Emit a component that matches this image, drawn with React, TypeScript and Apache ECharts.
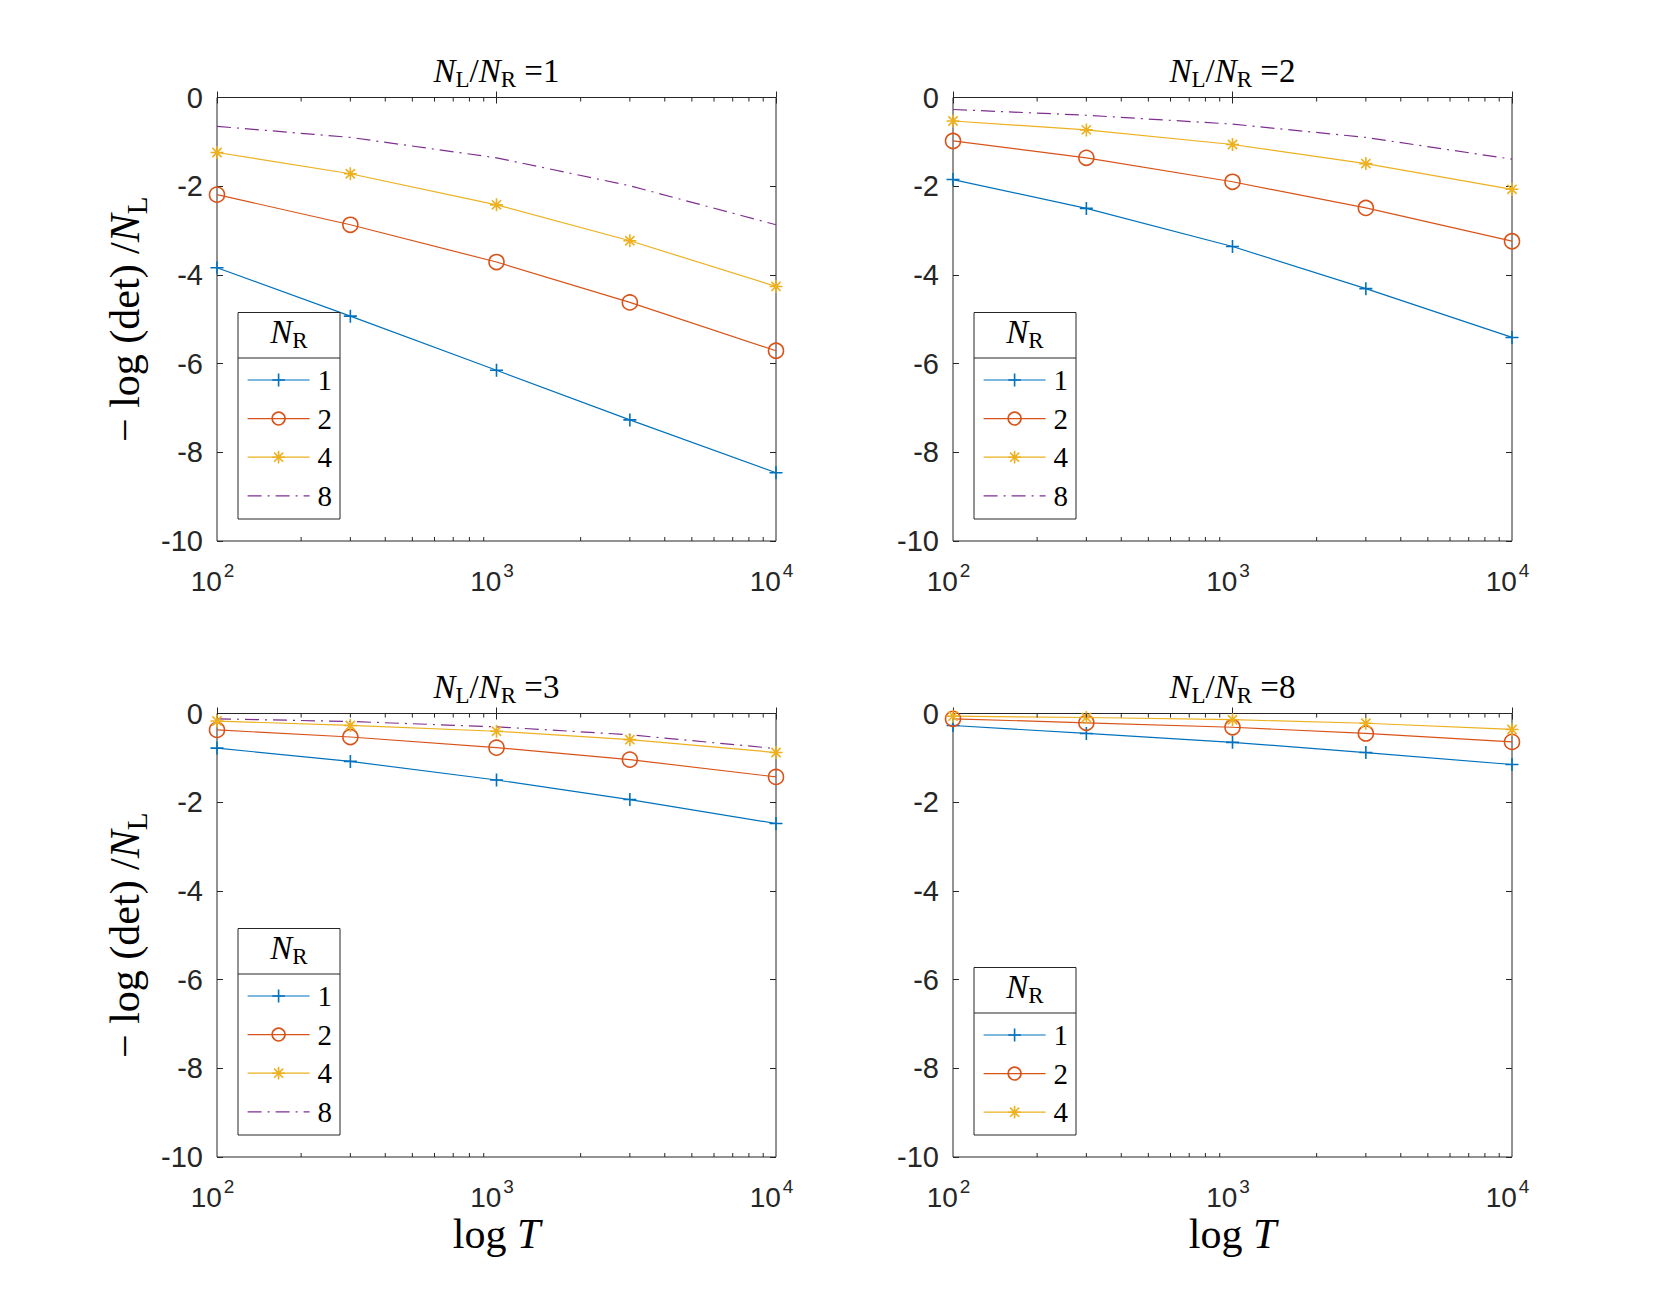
import React, { useEffect, useRef } from 'react';
import * as echarts from 'echarts';

// ---------------- data ----------------
const T_VALUES = [100, 300, 1000, 3000, 10000];
const NR_LABELS = ['1', '2', '4', '8'];
const RATIO_LABELS = ['1', '2', '3', '8'];
const MINOR_TICKS = [200, 300, 400, 500, 600, 700, 800, 900, 2000, 3000, 4000, 5000, 6000, 7000, 8000, 9000];
const Y_MIN = -10;
const Y_MAX = 0;
const Y_INTERVAL = 2;
const X_MIN = 100;
const X_MAX = 10000;

// N_L/N_R = 1
const P1_NR1 = [-3.84, -4.93, -6.15, -7.27, -8.46];
const P1_NR2 = [-2.19, -2.87, -3.71, -4.62, -5.71];
const P1_NR4 = [-1.24, -1.72, -2.42, -3.23, -4.26];
const P1_NR8 = [-0.65, -0.9, -1.36, -1.99, -2.87];
// N_L/N_R = 2
const P2_NR1 = [-1.85, -2.5, -3.36, -4.31, -5.41];
const P2_NR2 = [-0.98, -1.36, -1.9, -2.49, -3.24];
const P2_NR4 = [-0.53, -0.73, -1.06, -1.49, -2.07];
const P2_NR8 = [-0.27, -0.4, -0.6, -0.9, -1.39];
// N_L/N_R = 3
const P3_NR1 = [-0.78, -1.08, -1.5, -1.94, -2.48];
const P3_NR2 = [-0.37, -0.53, -0.77, -1.04, -1.43];
const P3_NR4 = [-0.17, -0.27, -0.4, -0.59, -0.88];
const P3_NR8 = [-0.12, -0.18, -0.3, -0.48, -0.79];
// N_L/N_R = 8
const P4_NR1 = [-0.27, -0.45, -0.65, -0.88, -1.15];
const P4_NR2 = [-0.12, -0.21, -0.31, -0.45, -0.64];
const P4_NR4 = [-0.06, -0.09, -0.14, -0.22, -0.36];

const PANEL_SERIES = [
  [P1_NR1, P1_NR2, P1_NR4, P1_NR8],
  [P2_NR1, P2_NR2, P2_NR4, P2_NR8],
  [P3_NR1, P3_NR2, P3_NR4, P3_NR8],
  [P4_NR1, P4_NR2, P4_NR4],
];

// ---------------- styles / layout ----------------
const W = 1671;
const H = 1300;
const GRID_POS = [
  { left: 217, top: 97.5 },
  { left: 953, top: 97.5 },
  { left: 217, top: 713.5 },
  { left: 953, top: 713.5 },
];
const GRID_W = 559;
const GRID_H = 443.5;

const COLORS = ['#0072BD', '#D95319', '#EDB120', '#7E2F8E'];
const PLUS = 'path://M5,0L5,10M0,5L10,5';
const STAR = 'path://M5,0L5,10M0,5L10,5M1.46,1.46L8.54,8.54M1.46,8.54L8.54,1.46';
const SYMBOLS = [PLUS, 'circle', STAR, 'none'];
const SYMBOL_SIZES = [13, 15, 13, 0];
const DASH_DOT = [14, 6, 2, 6];
const LINE_TYPES: any[] = ['solid', 'solid', 'solid', DASH_DOT];
const AXIS_COLOR = '#262626';
const SANS = 'Liberation Sans, Arial, Helvetica, sans-serif';
const SERIF = 'Liberation Serif, Times New Roman, serif';
const MAJOR_LEN = 6;
const MINOR_LEN = 4;

// legend boxes
const LEG_BOX = [
  { x: 238, y: 312.5, w: 102, h: 206.5, sep: 358, itemTop: 365.5 },
  { x: 974, y: 312.5, w: 102, h: 206.5, sep: 358, itemTop: 365.5 },
  { x: 238, y: 928.5, w: 102, h: 206.5, sep: 974, itemTop: 981.5 },
  { x: 974, y: 967.5, w: 102, h: 167.5, sep: 1013, itemTop: 1020.5 },
];

const TITLE_RICH = {
  i: { fontFamily: SERIF, fontStyle: 'italic', fontSize: 33, lineHeight: 38, color: '#000' },
  r: { fontFamily: SERIF, fontSize: 33, lineHeight: 38, color: '#000' },
  sub: { fontFamily: SERIF, fontSize: 23, lineHeight: 23, padding: [17, 0, 0, 0], color: '#000' },
};

const LABEL_RICH = {
  r: { fontFamily: SERIF, fontSize: 42, lineHeight: 48, color: '#000' },
  i: { fontFamily: SERIF, fontStyle: 'italic', fontSize: 42, lineHeight: 48, color: '#000' },
  sub: { fontFamily: SERIF, fontSize: 29, lineHeight: 29, padding: [23, 0, 0, 0], color: '#000' },
};

const XTICK_RICH = {
  base: { fontFamily: SANS, fontSize: 28, lineHeight: 32, color: AXIS_COLOR },
  sup: { fontFamily: SANS, fontSize: 19, lineHeight: 19, padding: [0, 9, 22, 2], color: AXIS_COLOR },
};

function buildOption() {
  const grid: any[] = [];
  const xAxis: any[] = [];
  const yAxis: any[] = [];
  const series: any[] = [];
  const legend: any[] = [];
  const graphic: any[] = [];

  GRID_POS.forEach((gp, g) => {
    grid.push({
      left: gp.left,
      top: gp.top,
      width: GRID_W,
      height: GRID_H,
      show: true,
      borderColor: AXIS_COLOR,
      borderWidth: 1,
      backgroundColor: '#fff',
      containLabel: false,
    });
    const isBottom = g >= 2;
    const isLeft = g % 2 === 0;
    xAxis.push({
      type: 'log',
      logBase: 10,
      gridIndex: g,
      min: X_MIN,
      max: X_MAX,
      position: 'bottom',
      axisLine: { show: false },
      axisTick: { show: true, inside: true, length: MAJOR_LEN, lineStyle: { color: AXIS_COLOR, width: 1 } },
      splitLine: { show: false },
      axisLabel: {
        margin: 24,
        color: AXIS_COLOR,
        fontFamily: SANS,
        fontSize: 28,
        formatter: (v: number) => `{base|10}{sup|${Math.round(Math.log10(v))}}`,
        rich: XTICK_RICH,
      },
      name: isBottom ? '{r|log }{i|T}' : '',
      nameLocation: 'middle',
      nameGap: 53,
      nameMoveOverlap: false,
      nameTextStyle: { rich: LABEL_RICH },
    });
    xAxis.push({
      type: 'log',
      logBase: 10,
      gridIndex: g,
      min: X_MIN,
      max: X_MAX,
      position: 'top',
      axisLine: { show: false },
      axisTick: { show: true, inside: true, length: MAJOR_LEN, lineStyle: { color: AXIS_COLOR, width: 1 } },
      axisLabel: { show: false },
      splitLine: { show: false },
    });
    yAxis.push({
      type: 'value',
      gridIndex: g,
      min: Y_MIN,
      max: Y_MAX,
      interval: Y_INTERVAL,
      position: 'left',
      axisLine: { show: false },
      axisTick: { show: true, inside: true, length: MAJOR_LEN, lineStyle: { color: AXIS_COLOR, width: 1 } },
      splitLine: { show: false },
      axisLabel: { margin: 14, color: AXIS_COLOR, fontFamily: SANS, fontSize: 29 },
      name: isLeft ? '{r|\u2212 log (det) /}{i|N}{sub|L}' : '',
      nameLocation: 'middle',
      nameRotate: 90,
      nameGap: 68,
      nameTextStyle: { rich: LABEL_RICH },
    });
    yAxis.push({
      type: 'value',
      gridIndex: g,
      min: Y_MIN,
      max: Y_MAX,
      interval: Y_INTERVAL,
      position: 'right',
      axisLine: { show: false },
      axisTick: { show: true, inside: true, length: MAJOR_LEN, lineStyle: { color: AXIS_COLOR, width: 1 } },
      splitLine: { show: false },
      axisLabel: { show: false },
    });

    const panel = PANEL_SERIES[g];
    panel.forEach((vals, k) => {
      series.push({
        type: 'line',
        name: NR_LABELS[k],
        xAxisIndex: 2 * g,
        yAxisIndex: 2 * g,
        data: T_VALUES.map((t, i) => [t, vals[i]]),
        symbol: SYMBOLS[k],
        symbolSize: SYMBOL_SIZES[k],
        showSymbol: SYMBOLS[k] !== 'none',
        showAllSymbol: true,
        clip: false,
        silent: true,
        z: 3,
        lineStyle: { color: COLORS[k], width: 1.2, type: LINE_TYPES[k] },
        itemStyle: {
          color: k === 1 ? 'rgba(0,0,0,0)' : COLORS[k],
          borderColor: COLORS[k],
          borderWidth: 1.6,
        },
        emphasis: { disabled: true },
      });
    });

    // minor ticks of the log axis (bottom and top), placed by the axis scale
    series.push({
      type: 'custom',
      name: 'minor-ticks-' + g,
      xAxisIndex: 2 * g,
      yAxisIndex: 2 * g,
      silent: true,
      clip: false,
      z: 4,
      data: MINOR_TICKS.map((v) => [v, Y_MIN]),
      encode: { x: 0, y: 1 },
      renderItem: (params: any, api: any) => {
        const xv = api.value(0);
        const b = api.coord([xv, Y_MIN]);
        const t = api.coord([xv, Y_MAX]);
        return {
          type: 'group',
          children: [
            { type: 'line', shape: { x1: b[0], y1: b[1], x2: b[0], y2: b[1] - MINOR_LEN }, style: { stroke: AXIS_COLOR, lineWidth: 1 } },
            { type: 'line', shape: { x1: t[0], y1: t[1], x2: t[0], y2: t[1] + MINOR_LEN }, style: { stroke: AXIS_COLOR, lineWidth: 1 } },
          ],
        };
      },
    });

    const lb = LEG_BOX[g];
    legend.push({
      data: NR_LABELS.slice(0, panel.length).map((n, k) => ({
        name: n,
        itemStyle:
          k === 3
            ? { color: 'rgba(0,0,0,0)', borderColor: 'rgba(0,0,0,0)', borderWidth: 0 }
            : { color: k === 1 ? 'rgba(0,0,0,0)' : COLORS[k], borderColor: COLORS[k], borderWidth: 1.6 },
        lineStyle: { color: COLORS[k], width: 1.2, type: LINE_TYPES[k] },
      })),
      orient: 'vertical',
      left: lb.x + 9,
      top: lb.itemTop,
      padding: 0,
      itemWidth: 62,
      itemHeight: 16,
      itemGap: 9.6,
      selectedMode: false,
      z: 20,
      textStyle: { fontFamily: SERIF, fontSize: 29, lineHeight: 29, color: '#000', padding: [0, 0, 0, 3] },
    });

    graphic.push({
      type: 'rect',
      z: 10,
      shape: { x: lb.x, y: lb.y, width: lb.w, height: lb.h },
      style: { fill: '#fff', stroke: AXIS_COLOR, lineWidth: 1 },
    });
    graphic.push({
      type: 'line',
      z: 11,
      shape: { x1: lb.x, y1: lb.sep, x2: lb.x + lb.w, y2: lb.sep },
      style: { stroke: AXIS_COLOR, lineWidth: 1 },
    });
    graphic.push({
      type: 'text',
      z: 11,
      x: lb.x + lb.w / 2,
      y: lb.y,
      style: { text: '{i|N}{sub|R}', rich: TITLE_RICH, align: 'center', verticalAlign: 'top' },
    });
    graphic.push({
      type: 'text',
      z: 11,
      x: gp.left + GRID_W / 2,
      y: gp.top - 46,
      style: {
        text: `{i|N}{sub|L}{r|/}{i|N}{sub|R}{r| =${RATIO_LABELS[g]}}`,
        rich: TITLE_RICH,
        align: 'center',
        verticalAlign: 'top',
      },
    });
  });

  return {
    animation: false,
    backgroundColor: '#fff',
    grid,
    xAxis,
    yAxis,
    series,
    legend,
    graphic,
  };
}

export default function App() {
  const ref = useRef<HTMLDivElement>(null);
  useEffect(() => {
    if (!ref.current) return;
    const chart = echarts.init(ref.current, null, { renderer: 'svg', width: W, height: H });
    chart.setOption(buildOption() as any);
    return () => chart.dispose();
  }, []);
  return (
    <div
      ref={ref}
      style={{ position: 'absolute', left: 0, top: 0, width: W, height: H, background: '#fff' }}
    />
  );
}
